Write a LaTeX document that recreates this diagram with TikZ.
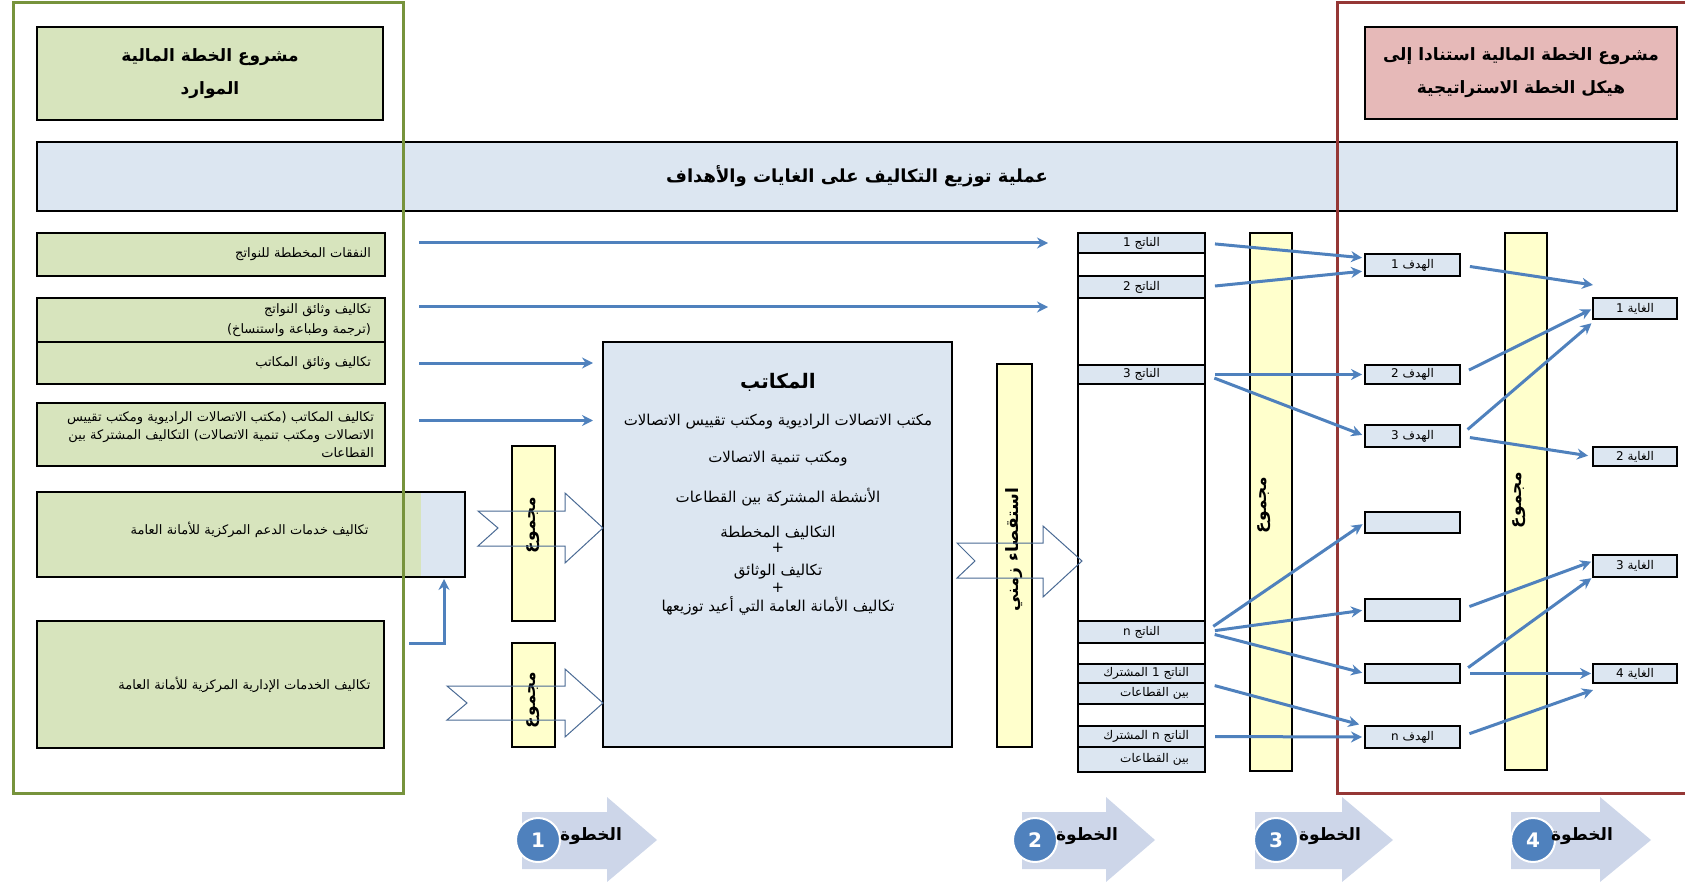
\documentclass[tikz,border=0pt]{standalone}
\usepackage{fontspec}
\newfontfamily\arabicfont[Script=Arabic]{DejaVu Sans}
\TeXXeTstate=1
\usetikzlibrary{arrows.meta}

\definecolor{greenfill}{HTML}{D7E4BD}
\definecolor{greenline}{HTML}{77933C}
\definecolor{redfill}{HTML}{E6B9B8}
\definecolor{redline}{HTML}{953735}
\definecolor{bluefill}{HTML}{DCE6F1}
\definecolor{yellowfill}{HTML}{FFFFCC}
\definecolor{flowblue}{HTML}{4F81BD}
\definecolor{chevronline}{HTML}{4A6A94}
\definecolor{stepfill}{HTML}{CDD6E9}

\newcommand{\artext}[1]{\beginR #1\endR}

\tikzset{
  box/.style={draw=black, line width=1.5pt, anchor=north west, inner sep=0pt, outer sep=0pt},
  greenbox/.style={box, fill=greenfill},
  bluebox/.style={box, fill=bluefill},
  yellowbar/.style={box, fill=yellowfill, line width=2pt},
  cell/.style={box, fill=bluefill, minimum width=127pt, font=\arabicfont\fontsize{12}{13}\selectfont},
  objbox/.style={box, fill=bluefill, minimum width=95pt, font=\arabicfont\fontsize{12}{13}\selectfont},
  goalbox/.style={box, fill=bluefill, minimum width=84pt, font=\arabicfont\fontsize{12}{13}\selectfont},
  lefttext/.style={font=\arabicfont\fontsize{13}{20}\selectfont, align=right, text width=320pt},
  titletext/.style={font=\arabicfont\bfseries\fontsize{17}{33}\selectfont, align=center},
  officetext/.style={font=\arabicfont\fontsize{15}{18}\selectfont},
  bartext/.style={font=\arabicfont\bfseries\fontsize{17}{20}\selectfont, rotate=90, inner sep=0pt},
  flow/.style={draw=flowblue, line width=3pt, -{Stealth[length=11pt,width=11pt]}, shorten <=10pt},
  chevron/.style={draw=chevronline, line width=1pt, line join=miter},
  stepnum/.style={circle, fill=flowblue, draw=white, line width=2pt, minimum size=44pt, inner sep=0pt, text=white, font=\arabicfont\bfseries\fontsize{20}{22}\selectfont},
  steplabel/.style={font=\arabicfont\bfseries\fontsize{17}{20}\selectfont},
}

\begin{document}
\begin{tikzpicture}[x=1pt, y=-1pt]
\useasboundingbox (0,0) rectangle (1685,882);

% titles and banner
\node[greenbox, titletext, minimum width=346pt, minimum height=93pt] (resources) at (37,27) {\artext{مشروع الخطة المالية}\\\artext{الموارد}};
\node[box, fill=redfill, titletext, minimum width=312pt, minimum height=92pt] (strategic) at (1365,27) {\artext{مشروع الخطة المالية استنادا إلى}\\\artext{هيكل الخطة الاستراتيجية}};
\node[bluebox, minimum width=1640pt, minimum height=69pt, font=\arabicfont\bfseries\fontsize{18}{22}\selectfont] (banner) at (37,142) {\artext{عملية توزيع التكاليف على الغايات والأهداف}};

% cost boxes
\node[greenbox, lefttext, minimum width=348pt, minimum height=43pt] (costA) at (37,233) {\artext{النفقات المخططة للنواتج}};
\node[greenbox, lefttext, minimum width=348pt, minimum height=44pt] (costB) at (37,298) {\artext{تكاليف وثائق النواتج}\\\artext{(ترجمة وطباعة واستنساخ)}};
\node[greenbox, lefttext, minimum width=348pt, minimum height=42pt] (costC) at (37,342) {\artext{تكاليف وثائق المكاتب}};
\node[greenbox, font=\arabicfont\fontsize{13}{18}\selectfont, align=right, text width=326pt, minimum width=348pt, minimum height=63pt] (costD) at (37,403) {\artext{تكاليف المكاتب (مكتب الاتصالات الراديوية ومكتب تقييس}\\\artext{الاتصالات ومكتب تنمية الاتصالات) التكاليف المشتركة بين}\\\artext{القطاعات}};
\node[greenbox, minimum width=428pt, minimum height=85pt] (costE) at (37,492) {};
\fill[bluefill] (421,493) rectangle (464,576);
\node[lefttext, anchor=east] (costE-text) at (372,530) {\artext{تكاليف خدمات الدعم المركزية للأمانة العامة}};
\node[greenbox, lefttext, minimum width=347pt, minimum height=127pt] (costF) at (37,621) {\artext{تكاليف الخدمات الإدارية المركزية للأمانة العامة}};

% sum bars
\node[yellowbar, minimum width=43pt, minimum height=175pt] (sumA) at (512,446) {};
\node[yellowbar, minimum width=43pt, minimum height=104pt] (sumB) at (512,643) {};
\node[yellowbar, minimum width=35pt, minimum height=383pt] (survey) at (997,364) {};
\node[yellowbar, minimum width=42pt, minimum height=538pt] (sumC) at (1250,233) {};
\node[yellowbar, minimum width=42pt, minimum height=537pt] (sumD) at (1505,233) {};
\node[bartext] (sumA-text) at (533,525) {\artext{مجموع}};
\node[bartext] (sumB-text) at (533,700) {\artext{مجموع}};
\node[bartext] (survey-text) at (1014,550) {\artext{استقصاء زمني}};
\node[bartext] (sumC-text) at (1264,505) {\artext{مجموع}};
\node[bartext] (sumD-text) at (1519,500) {\artext{مجموع}};

% offices
\node[bluebox, line width=2pt, minimum width=349pt, minimum height=405pt] (offices) at (603,342) {};
\node[font=\arabicfont\bfseries\fontsize{20}{24}\selectfont] (offices-title) at (778,382) {\artext{المكاتب}};
\foreach \ty/\tx [count=\n] in {422/{مكتب الاتصالات الراديوية ومكتب تقييس الاتصالات}, 459/{ومكتب تنمية الاتصالات}, 497/{الأنشطة المشتركة بين القطاعات}, 533/{التكاليف المخططة}, 548/{+}, 572/{تكاليف الوثائق}, 588/{+}, 606/{تكاليف الأمانة العامة التي أعيد توزيعها}}
  \node[officetext] (offices-line\n) at (778,\ty) {\artext{\tx}};

% outputs column
\node[box, fill=white, minimum width=127pt, minimum height=539pt] (outcol) at (1078,233) {};
\node[cell, minimum height=20pt] (out1) at (1078,233) {\artext{الناتج 1}};
\node[cell, minimum height=22pt] (out2) at (1078,276) {\artext{الناتج 2}};
\node[cell, minimum height=19pt] (out3) at (1078,365) {\artext{الناتج 3}};
\node[cell, minimum height=22pt] (outn) at (1078,621) {\artext{الناتج n}};
\node[cell, minimum height=19pt, text width=95pt, align=right] (shared1a) at (1078,664) {\artext{الناتج 1 المشترك}};
\node[cell, minimum height=21pt, text width=95pt, align=right] (shared1b) at (1078,683) {\artext{بين القطاعات}};
\node[cell, minimum height=21pt, text width=95pt, align=right] (sharedna) at (1078,726) {\artext{الناتج n المشترك}};
\node[cell, minimum height=25pt, text width=95pt, align=right] (sharednb) at (1078,747) {\artext{بين القطاعات}};

% objectives
\node[objbox, minimum height=22pt] (obj1) at (1365,254) {\artext{الهدف 1}};
\node[objbox, minimum height=19pt] (obj2) at (1365,365) {\artext{الهدف 2}};
\node[objbox, minimum height=22pt] (obj3) at (1365,425) {\artext{الهدف 3}};
\node[objbox, minimum height=21pt] (ob4) at (1365,512) {};
\node[objbox, minimum height=22pt] (ob5) at (1365,599) {};
\node[objbox, minimum height=19pt] (ob6) at (1365,664) {};
\node[objbox, minimum height=22pt] (objn) at (1365,726) {\artext{الهدف n}};

% goals
\node[goalbox, minimum height=21pt] (goal1) at (1593,298) {\artext{الغاية 1}};
\node[goalbox, minimum height=19pt] (goal2) at (1593,447) {\artext{الغاية 2}};
\node[goalbox, minimum height=22pt] (goal3) at (1593,555) {\artext{الغاية 3}};
\node[goalbox, minimum height=19pt] (goal4) at (1593,664) {\artext{الغاية 4}};

% block arrows
\draw[chevron] (478,511) -- (498,528) -- (478,546) -- (565,546) -- (565,563) -- (603,528) -- (565,493) -- (565,511) -- cycle;
\draw[chevron] (447,686) -- (467,703) -- (447,720) -- (565,720) -- (565,737) -- (603,703) -- (565,669) -- (565,686) -- cycle;
\draw[chevron] (957,543) -- (975,561) -- (957,578) -- (1043,578) -- (1043,597) -- (1082,561) -- (1043,526) -- (1043,543) -- cycle;

% frames
\draw[greenline, line width=3pt] (13,3) rectangle (403,793);
\draw[redline, line width=3pt] (1690,3) -- (1337,3) -- (1337,793) -- (1690,793);

% cost flows
\coordinate (inB) at ([yshift=13pt]costB.east);
\coordinate (inD) at ([yshift=14pt]costD.east);
\coordinate (supT) at (409,643);
\draw[flow, shorten <=34pt, shorten >=30pt] (costA.east |- out1.west) -- (out1.west);
\draw[flow, shorten <=34pt, shorten >=30pt] (inB) -- (inB -| outcol.west);
\draw[flow, shorten <=34pt, shorten >=10pt] (costC.east) -- (costC.east -| offices.west);
\draw[flow, shorten <=34pt, shorten >=10pt] (inD) -- (inD -| offices.west);
\draw[flow, shorten <=0pt, shorten >=2pt] (supT) -| ([xshift=-21pt]costE.south east);

% outputs to objectives
\draw[flow, shorten >=3pt] (out1.east) -- ([yshift=7pt]obj1.west);
\draw[flow, shorten >=3pt] (out2.east) -- ([yshift=-6pt]obj1.west);
\draw[flow, shorten >=3pt] (out3.east) -- (obj2.west);
\draw[flow, shorten >=3pt] (out3.east) -- (obj3.west);
\draw[flow, shorten >=3pt] (outn.east) -- (ob4.west);
\draw[flow, shorten >=3pt] (outn.east) -- (ob5.west);
\draw[flow, shorten >=3pt] (outn.east) -- (ob6.west);
\draw[flow, shorten >=6pt] (shared1a.south east) -- (objn.north west);
\draw[flow, shorten >=3pt] (sharedna.east) -- (objn.west);

% objectives to goals
\draw[flow, shorten >=0pt] (obj1.east) -- ([yshift=13pt]goal1.north west);
\draw[flow, shorten >=2pt] (obj2.east) -- (goal1.west);
\draw[flow, shorten >=2pt] (obj3.east) -- ([yshift=-3pt]goal1.south west);
\draw[flow, shorten >=5pt] (obj3.east) -- (goal2.west);
\draw[flow, shorten >=2pt] (ob5.east) -- ([yshift=5pt]goal3.west);
\draw[flow, shorten >=2pt] (ob6.east) -- (goal3.south west);
\draw[flow, shorten >=2pt] (ob6.east) -- (goal4.west);
\draw[flow, shorten >=0pt] (objn.east) -- ([yshift=-7pt]goal4.south west);

% steps
\foreach \bx/\hx/\tx/\cx/\lx [count=\n] in {522/607/657/538/591, 1022/1106/1155/1035/1087, 1255/1342/1393/1276/1330, 1511/1600/1651/1533/1582} {
  \fill[stepfill] (\bx,812) -- (\hx,812) -- (\hx,797) -- (\tx,840) -- (\hx,882) -- (\hx,869) -- (\bx,869) -- cycle;
  \node[stepnum] (step\n) at (\cx,840) {\n};
  \node[steplabel] (step\n-label) at (\lx,836) {\artext{الخطوة}};
}

\end{tikzpicture}
\end{document}
